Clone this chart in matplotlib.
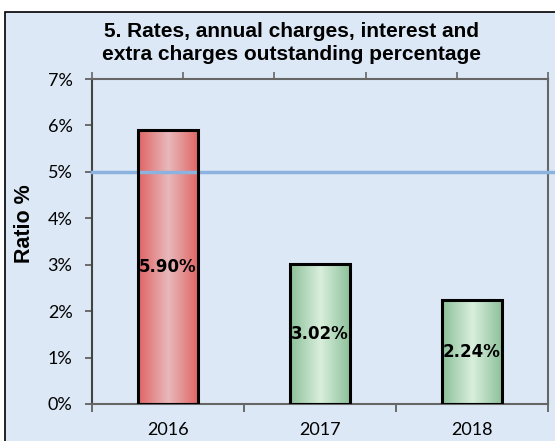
import numpy as np
import matplotlib
matplotlib.use("Agg")
import matplotlib.pyplot as plt
from matplotlib.patches import Rectangle
from matplotlib.colors import LinearSegmentedColormap

years = ["2016", "2017", "2018"]
values = [5.90, 3.02, 2.24]
labels = ["5.90%", "3.02%", "2.24%"]
yticks = [0, 1, 2, 3, 4, 5, 6, 7]
ytick_labels = ["0%", "1%", "2%", "3%", "4%", "5%", "6%", "7%"]
threshold = 5.0
title = "5. Rates, annual charges, interest and\nextra charges outstanding percentage"
ylabel = "Ratio %"

bg = "#dce8f5"
fig = plt.figure(figsize=(5.55, 4.41), dpi=100, facecolor="white")
fig.patches.append(Rectangle((5/555, -0.02), 1.0, 0.9728 + 0.02, transform=fig.transFigure,
                             facecolor=bg, edgecolor="black", linewidth=1.2, zorder=-5))

ax = fig.add_axes([92/555, 37/441, (548-92)/555, (404-79)/441])
ax.set_facecolor("none")
x = np.arange(len(years))

red_cmap = LinearSegmentedColormap.from_list("r", ["#e06464", "#e8b9bb", "#e06464"])
green_cmap = LinearSegmentedColormap.from_list("g", ["#8cc09a", "#d9efdc", "#8cc09a"])
grad = np.linspace(0, 1, 64).reshape(1, -1)

bars = ax.bar(x, values, width=0.4, facecolor="none", edgecolor="black", linewidth=2.2, zorder=4)
for i, b in enumerate(bars):
    cmap = red_cmap if values[i] > threshold else green_cmap
    x0, y0 = b.get_x(), b.get_y()
    w, h = b.get_width(), b.get_height()
    im = ax.imshow(grad, cmap=cmap, aspect="auto", extent=(x0, x0 + w, y0, y0 + h), zorder=2)
    im.set_clip_path(b)
ax.set_xlim(-0.5, len(years) - 0.5)
ax.set_ylim(0, 7)

ax.axhline(threshold, color="#8cb3e0", linewidth=2.5, zorder=3, clip_on=False, xmax=1.02)

for i, b in enumerate(bars):
    ax.text(b.get_x() + b.get_width() / 2, values[i] / 2, labels[i], ha="center", va="center",
            fontsize=12, fontweight="bold", family="DejaVu Sans", zorder=6)

ax.set_yticks(yticks)
ax.set_yticklabels(ytick_labels, fontsize=13, family=["Lato", "DejaVu Sans"])
ax.set_xticks(x)
ax.set_xticklabels(years, fontsize=13, family=["Lato", "DejaVu Sans"])
ax.set_xticks(np.arange(len(years) + 1) - 0.5, minor=True)
ax.tick_params(axis="x", which="major", length=0, pad=13)
ax.tick_params(axis="x", which="minor", length=6, width=1.2, color="#555555", direction="out")
ax.tick_params(axis="y", length=5, width=1.2, color="#555555", direction="out", pad=9)
for s in ax.spines.values():
    s.set_color("#666666")
    s.set_linewidth(1.5)
ax.spines["left"].set_color("#444444")

ax2 = ax.twiny()
ax2.set_xlim(0, 5)
ax2.set_xticks(np.arange(0, 6))
ax2.set_xticklabels([])
ax2.tick_params(axis="x", length=5, width=1.2, color="#666666", direction="out")
for s in ax2.spines.values():
    s.set_visible(False)

fig.text(0.044, 0.492, ylabel, rotation=90, ha="center", va="center", fontsize=15.5,
         fontweight="bold", family="Liberation Sans")
fig.text(0.525, 0.902, title, ha="center", va="center", fontsize=15, fontweight="bold",
         family="Liberation Sans", linespacing=1.3)

fig.savefig("out.png", dpi=100, facecolor="white")
